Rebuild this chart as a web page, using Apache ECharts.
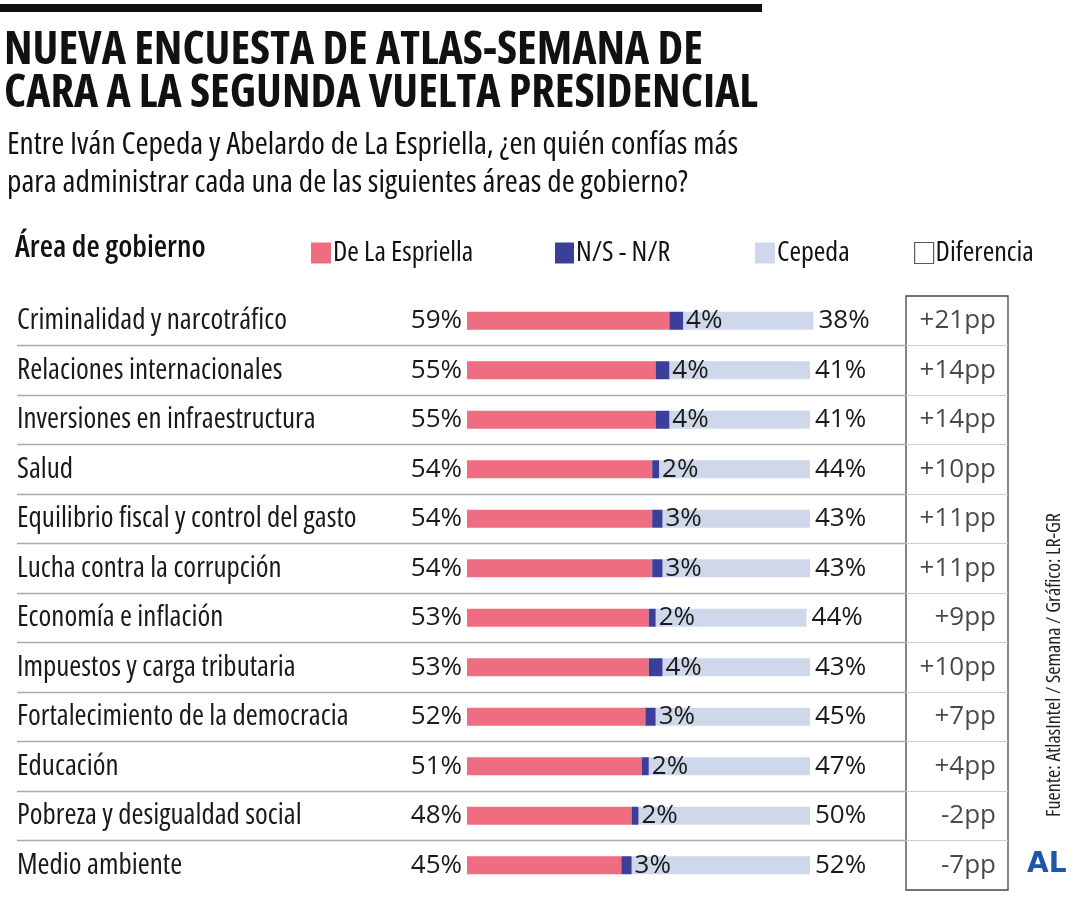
<!DOCTYPE html>
<html><head><meta charset="utf-8">
<script src="https://cdn.jsdelivr.net/npm/echarts@6/dist/echarts.min.js"></script>
<style>html,body{margin:0;padding:0;background:#fff}#c{width:1080px;height:900px}</style>
</head><body><div id="c"></div>
<script>
const categories = ['Criminalidad y narcotráfico','Relaciones internacionales','Inversiones en infraestructura','Salud','Equilibrio fiscal y control del gasto','Lucha contra la corrupción','Economía e inflación','Impuestos y carga tributaria','Fortalecimiento de la democracia','Educación','Pobreza y desigualdad social','Medio ambiente'];
const delaEspriella = [59,55,55,54,54,54,53,53,52,51,48,45];
const nsnr = [4,4,4,2,3,3,2,4,3,2,2,3];
const cepeda = [38,41,41,44,43,43,44,43,45,47,50,52];
const diferencia = ['+21pp','+14pp','+14pp','+10pp','+11pp','+11pp','+9pp','+10pp','+7pp','+4pp','-2pp','-7pp'];

const WFONT = '"Open Sans", "Roboto Condensed", sans-serif';
const RED = '#ee6d80', BLUE = '#3b3f99', LIGHT = '#cfd8ea';
const pct = p => p.value + '%';
const lbl = {fontFamily: WFONT, fontWeight: 'normal', fontSize: 26, color: '#1a1a1a'};
const legText = {fontFamily: WFONT, fontWeight: 'condensed', fontSize: 28, color: '#111', padding: [0,0,0,-3]};

const chart = echarts.init(document.getElementById('c'), null, {renderer: 'canvas'});
chart.setOption({
  backgroundColor: '#fff',
  animation: false,
  textStyle: {fontFamily: WFONT},
  graphic: [
    {type: 'rect', shape: {x: 0, y: 4, width: 762, height: 8}, style: {fill: '#111'}},
    {type: 'text', left: 4, top: 28, style: {text: 'NUEVA ENCUESTA DE ATLAS-SEMANA DE\nCARA A LA SEGUNDA VUELTA PRESIDENCIAL', font: 'bold condensed 46px ' + WFONT, fill: '#111', lineHeight: 43}},
    {type: 'text', left: 7, top: 126, style: {text: 'Entre Iván Cepeda y Abelardo de La Espriella, ¿en quién confías más\npara administrar cada una de las siguientes áreas de gobierno?', font: 'condensed 31.5px ' + WFONT, fill: '#111', lineHeight: 38}},
    {type: 'text', left: 15, top: 233, style: {text: 'Área de gobierno', font: '600 condensed 30.5px ' + WFONT, fill: '#111'}},
    {type: 'text', x: 1064, y: 665, rotation: Math.PI / 2, style: {text: 'Fuente: AtlasIntel / Semana / Gráfico: LR-GR', font: 'condensed 20px ' + WFONT, fill: '#222', align: 'center', verticalAlign: 'bottom'}},
    {type: 'text', left: 1027, top: 851, style: {text: 'AL', font: 'bold 28px "DejaVu Sans", sans-serif', fill: '#1c56a8'}}
  ],
  legend: [
    {left: 306, top: 234, itemWidth: 20, itemHeight: 21, itemGap: 0, textStyle: legText, data: [{name: 'De La Espriella', icon: 'rect'}], selectedMode: false},
    {left: 550, top: 234, itemWidth: 19, itemHeight: 21, itemGap: 0, textStyle: legText, data: [{name: 'N/S - N/R', icon: 'rect'}], selectedMode: false},
    {left: 750, top: 234, itemWidth: 20, itemHeight: 21, itemGap: 0, textStyle: legText, data: [{name: 'Cepeda', icon: 'rect'}], selectedMode: false},
    {left: 909, top: 234, itemWidth: 19, itemHeight: 21, itemGap: 0, textStyle: legText, data: [{name: 'Diferencia', icon: 'rect', itemStyle: {color: '#fff', borderColor: '#333', borderWidth: 1.2}}], selectedMode: false}
  ],
  grid: [
    {left: 17, width: 889, top: 296, height: 594, show: false},
    {left: 906, width: 102, top: 296, height: 594, show: true, borderColor: '#444', borderWidth: 1.3, backgroundColor: 'transparent'}
  ],
  xAxis: [
    {type: 'value', gridIndex: 0, min: -131.2, max: 128, show: false},
    {type: 'value', gridIndex: 1, min: 0, max: 1, show: false}
  ],
  yAxis: [
    {type: 'category', gridIndex: 0, data: categories, inverse: true,
     axisLine: {show: false}, axisTick: {show: false},
     axisLabel: {inside: true, margin: 0, fontFamily: WFONT, fontWeight: 'condensed', fontSize: 29, color: '#1a1a1a'},
     splitLine: {show: true, showMinLine: false, showMaxLine: false, lineStyle: {color: '#aaa', width: 1.3}}},
    {type: 'category', gridIndex: 1, data: categories, inverse: true, show: true,
     axisLine: {show: false}, axisTick: {show: false}, axisLabel: {show: false},
     splitLine: {show: true, showMinLine: false, showMaxLine: false, lineStyle: {color: '#ccc', width: 1}}}
  ],
  series: [
    {name: 'De La Espriella', type: 'bar', stack: 't', xAxisIndex: 0, yAxisIndex: 0, barWidth: 18, data: delaEspriella,
     itemStyle: {color: RED}, label: Object.assign({show: true, position: 'left', distance: 5, formatter: pct}, lbl)},
    {name: 'N/S - N/R', type: 'bar', stack: 't', xAxisIndex: 0, yAxisIndex: 0, barWidth: 18, data: nsnr,
     itemStyle: {color: BLUE}, label: Object.assign({show: true, position: 'right', distance: 3, formatter: pct}, lbl)},
    {name: 'Cepeda', type: 'bar', stack: 't', xAxisIndex: 0, yAxisIndex: 0, barWidth: 18, data: cepeda,
     itemStyle: {color: LIGHT}, label: Object.assign({show: true, position: 'right', distance: 5, formatter: pct}, lbl), z: 1},
    {name: 'Diferencia', type: 'scatter', xAxisIndex: 1, yAxisIndex: 1, symbolSize: 0,
     data: diferencia.map((d, i) => [1, categories[i], d]),
     itemStyle: {color: 'rgba(0,0,0,0)'},
     label: Object.assign({show: true, position: 'left', distance: 12, formatter: p => p.value[2]}, lbl)}
  ]
});
</script></body></html>
